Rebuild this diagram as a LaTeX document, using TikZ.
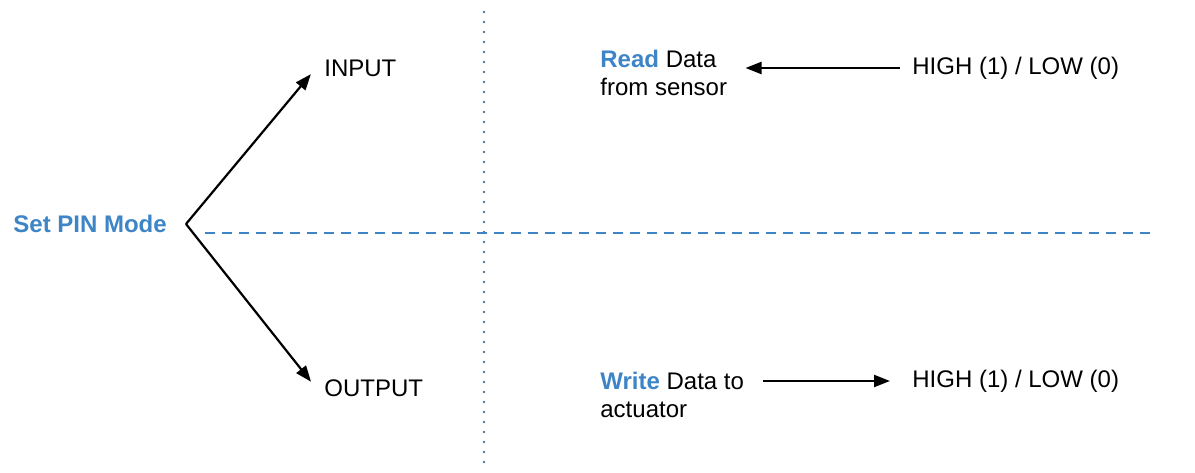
\documentclass[tikz,border=0pt]{standalone}
\usepackage{fontspec}
\setmainfont{Liberation Sans}
\usetikzlibrary{arrows.meta}
\definecolor{pinblue}{HTML}{3D85C6}
\definecolor{dotgray}{HTML}{4F7597}
\tikzset{
  lbl/.style={inner sep=4pt, font=\fontsize{12}{14}\selectfont, align=left},
  arr/.style={line width=1.1pt, -{Triangle[length=8pt,width=6pt]}},
}

\begin{document}
\begin{tikzpicture}[x=0.5pt,y=-0.5pt]
		\useasboundingbox (0,0) rectangle (1195,472);
		%%%%% START %%%%%
		
		\draw[dotgray, line width=1.4pt, line cap=round, dash pattern=on 0pt off 5pt] (484,12) -- (484,470);
		\draw[pinblue, line width=1.2pt, dash pattern=on 5pt off 3.5pt] (205,233) -- (1150,233);
		
		\node[lbl, anchor=west, text=pinblue, font=\fontsize{12}{14}\selectfont\bfseries] (mode) at (5,224) {Set PIN Mode};
		\coordinate (vtx) at (186,224);
		
		\node[lbl, anchor=west] (in) at (316,68) {INPUT};
		\node[lbl, anchor=west] (out) at (316,388) {OUTPUT};
		\draw[arr, shorten >=4pt] (vtx) -- (in.west);
		\draw[arr, shorten >=4pt] (vtx) -- (out.west);
		
		\node[lbl, anchor=west] (read) at (592,73) {\textcolor{pinblue}{\bfseries Read} Data\\from sensor};
		\node[lbl, anchor=west] (hi1) at (904,68) {HIGH (1) / LOW (0)};
		\draw[arr, shorten <=2pt, shorten >=5pt] (hi1.west) -- (hi1.west -| read.east);
		
		\node[lbl, anchor=west] (write) at (592,395) {\textcolor{pinblue}{\bfseries Write} Data to\\actuator};
		\node[lbl, anchor=west] (hi2) at (904,381) {HIGH (1) / LOW (0)};
		\draw[arr, shorten <=5.5pt, shorten >=7pt] (hi2.west -| write.east) -- (hi2.west);
		
		%%%%% END %%%%%
	\end{tikzpicture}
\end{document}
